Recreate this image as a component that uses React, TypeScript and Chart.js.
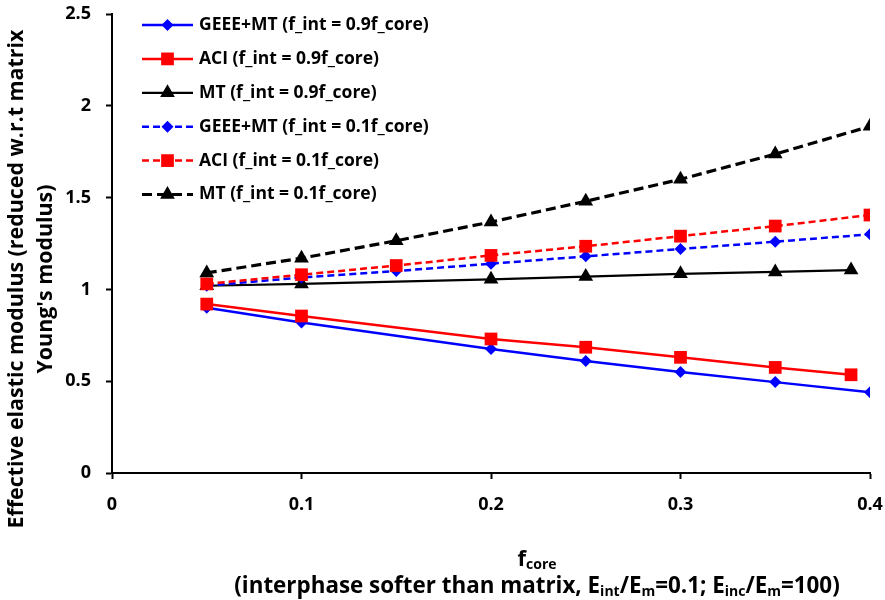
import React, { useEffect, useRef } from "react";
import { Chart, registerables } from "chart.js";

Chart.register(...registerables);

// ---- data ----
const xSolidFull = [0.05, 0.1, 0.2, 0.25, 0.3, 0.35, 0.4];
const xSolidShort = [0.05, 0.1, 0.2, 0.25, 0.3, 0.35, 0.39];
const xDashed = [0.05, 0.1, 0.15, 0.2, 0.25, 0.3, 0.35, 0.4];

const geee09 = [0.9, 0.82, 0.675, 0.61, 0.55, 0.495, 0.44];
const aci09 = [0.92, 0.855, 0.73, 0.685, 0.63, 0.575, 0.535];
const mt09 = [1.02, 1.03, 1.055, 1.07, 1.085, 1.095, 1.105];
const geee01 = [1.02, 1.065, 1.1, 1.14, 1.18, 1.22, 1.26, 1.3];
const aci01 = [1.03, 1.08, 1.13, 1.185, 1.235, 1.29, 1.345, 1.405];
const mt01 = [1.09, 1.17, 1.265, 1.367, 1.48, 1.6, 1.737, 1.888];

const seriesLabels = [
  "GEEE+MT (f_int = 0.9f_core)",
  "ACI (f_int = 0.9f_core)",
  "MT (f_int = 0.9f_core)",
  "GEEE+MT (f_int = 0.1f_core)",
  "ACI (f_int = 0.1f_core)",
  "MT (f_int = 0.1f_core)",
];

const yTitleLines = ["Effective elastic modulus (reduced w.r.t matrix", "Young's modulus)"];
const xTitleMain = [
  { t: "f", sub: false },
  { t: "core", sub: true },
];
const xTitleSecond = [
  { t: "(interphase softer than matrix, E", sub: false },
  { t: "int", sub: true },
  { t: "/E", sub: false },
  { t: "m", sub: true },
  { t: "=0.1; E", sub: false },
  { t: "inc", sub: true },
  { t: "/E", sub: false },
  { t: "m", sub: true },
  { t: "=100)", sub: false },
];

const FONT = "'Open Sans', 'DejaVu Sans', sans-serif";

function pts(xs: number[], ys: number[]) {
  return xs.map((x, i) => ({ x, y: ys[i] }));
}

type Style = { color: string; dash: number[]; width: number; point: string; radius: number };
const styles: Style[] = [
  { color: "#0000FF", dash: [], width: 2.5, point: "rectRot", radius: 6 },
  { color: "#FF0000", dash: [], width: 2.5, point: "rect", radius: 9 },
  { color: "#000000", dash: [], width: 2.2, point: "triangle", radius: 8.5 },
  { color: "#0000FF", dash: [7, 4], width: 2.5, point: "rectRot", radius: 6 },
  { color: "#FF0000", dash: [7, 4], width: 2.5, point: "rect", radius: 9 },
  { color: "#000000", dash: [10, 5], width: 3.2, point: "triangle", radius: 8.5 },
];

function drawSegments(ctx: CanvasRenderingContext2D, segs: { t: string; sub: boolean }[], cx: number, cy: number, size: number) {
  const subSize = Math.round(size * 0.62);
  let total = 0;
  for (const s of segs) {
    ctx.font = `bold ${s.sub ? subSize : size}px ${FONT}`;
    total += ctx.measureText(s.t).width;
  }
  let x = cx - total / 2;
  ctx.textAlign = "left";
  ctx.textBaseline = "alphabetic";
  for (const s of segs) {
    ctx.font = `bold ${s.sub ? subSize : size}px ${FONT}`;
    ctx.fillText(s.t, x, s.sub ? cy + size * 0.15 : cy);
    x += ctx.measureText(s.t).width;
  }
}

function drawMarker(ctx: CanvasRenderingContext2D, style: string, x: number, y: number, r: number) {
  ctx.beginPath();
  if (style === "rectRot") {
    ctx.moveTo(x - r, y);
    ctx.lineTo(x, y - r);
    ctx.lineTo(x + r, y);
    ctx.lineTo(x, y + r);
    ctx.closePath();
  } else if (style === "rect") {
    const s = Math.SQRT1_2 * r;
    ctx.rect(x - s, y - s, 2 * s, 2 * s);
  } else {
    const a = (2 * Math.PI) / 3;
    ctx.moveTo(x, y - r);
    ctx.lineTo(x + Math.sin(a) * r, y - Math.cos(a) * r);
    ctx.lineTo(x + Math.sin(2 * a) * r, y - Math.cos(2 * a) * r);
    ctx.closePath();
  }
  ctx.fill();
}

const overlay = {
  id: "overlay",
  afterDraw(chart: any) {
    const ctx: CanvasRenderingContext2D = chart.ctx;
    ctx.save();
    // legend
    for (let i = 0; i < seriesLabels.length; i++) {
      const st = styles[i];
      const y = 25 + i * 33.9;
      ctx.strokeStyle = st.color;
      ctx.lineWidth = st.width;
      ctx.setLineDash(st.dash);
      ctx.beginPath();
      ctx.moveTo(142, y);
      ctx.lineTo(193, y);
      ctx.stroke();
      ctx.setLineDash([]);
      ctx.fillStyle = st.color;
      drawMarker(ctx, st.point, 167.5, y, st.radius);
      ctx.fillStyle = "#000";
      ctx.font = `bold 17.5px ${FONT}`;
      ctx.textAlign = "left";
      ctx.textBaseline = "middle";
      ctx.fillText(seriesLabels[i], 199, y);
    }
    // y title
    ctx.fillStyle = "#000";
    ctx.font = `bold 21.4px ${FONT}`;
    ctx.textAlign = "center";
    ctx.textBaseline = "middle";
    const xs = [17, 46];
    yTitleLines.forEach((line, i) => {
      ctx.save();
      ctx.translate(xs[i], 279);
      ctx.rotate(-Math.PI / 2);
      ctx.fillText(line, 0, 0);
      ctx.restore();
    });
    // x title
    ctx.fillStyle = "#000";
    drawSegments(ctx, xTitleMain, 537, 566, 22);
    drawSegments(ctx, xTitleSecond, 537, 593, 22.4);
    ctx.restore();
  },
};

export default function App() {
  const ref = useRef<HTMLCanvasElement | null>(null);
  useEffect(() => {
    if (!ref.current) return;
    const dataSets = [
      pts(xSolidFull, geee09),
      pts(xSolidShort, aci09),
      pts(xSolidShort, mt09),
      pts(xDashed, geee01),
      pts(xDashed, aci01),
      pts(xDashed, mt01),
    ];
    const chart = new Chart(ref.current, {
      type: "line",
      data: {
        datasets: dataSets.map((d, i) => ({
          label: seriesLabels[i],
          data: d,
          borderColor: styles[i].color,
          backgroundColor: styles[i].color,
          borderWidth: styles[i].width,
          borderDash: styles[i].dash,
          pointStyle: styles[i].point as any,
          pointRadius: styles[i].radius,
          pointBorderWidth: 0,
          pointBackgroundColor: styles[i].color,
          pointBorderColor: styles[i].color,
          tension: 0,
          fill: false,
          order: -i,
        })),
      },
      options: {
        animation: false,
        responsive: false,
        devicePixelRatio: 1,
        layout: { padding: { left: 0, right: 0, top: 0, bottom: 0 } },
        plugins: { legend: { display: false }, tooltip: { enabled: false } },
        scales: {
          x: {
            type: "linear",
            min: 0,
            max: 0.4,
            afterFit: (s: any) => {
              s.height = 127;
              s.paddingRight = 15;
              s.paddingLeft = 0;
            },
            ticks: {
              stepSize: 0.1,
              color: "#000",
              font: { family: FONT, size: 18, weight: "bold" },
              padding: 15,
              callback: (v: any) => String(Math.round(Number(v) * 10) / 10),
            },
            grid: { display: true, drawOnChartArea: false, drawTicks: true, tickLength: 6, color: "#000", tickWidth: 2 },
            border: { color: "#000", width: 2 },
          },
          y: {
            min: 0,
            max: 2.5,
            afterFit: (s: any) => {
              s.width = 112;
              s.paddingTop = 14;
              s.paddingBottom = 0;
            },
            ticks: {
              stepSize: 0.5,
              color: "#000",
              font: { family: FONT, size: 18, weight: "bold" },
              padding: 15,
              callback: (v: any) => String(Math.round(Number(v) * 10) / 10),
            },
            grid: { display: true, drawOnChartArea: false, drawTicks: true, tickLength: 6, color: "#000", tickWidth: 2 },
            border: { color: "#000", width: 2 },
          },
        },
      },
      plugins: [overlay],
    });
    return () => chart.destroy();
  }, []);
  return (
    <div style={{ position: "fixed", left: 0, top: 0, width: 885, height: 600, background: "#fff" }}>
      <canvas ref={ref} width={885} height={600} style={{ width: 885, height: 600, display: "block" }} />
    </div>
  );
}
